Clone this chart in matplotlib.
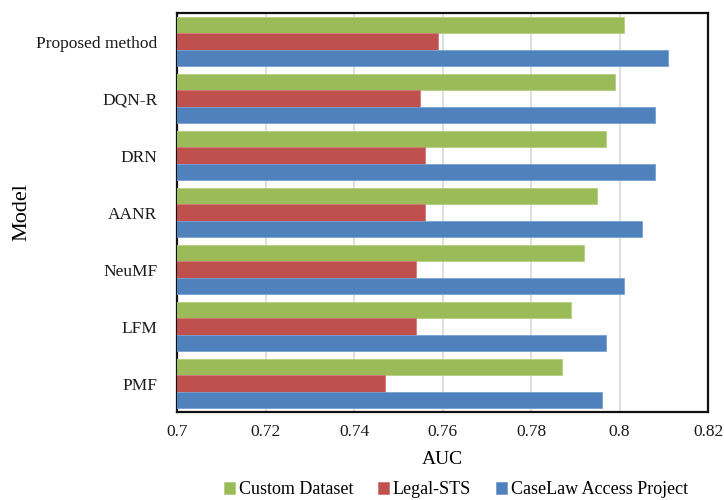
import matplotlib
matplotlib.use("Agg")
import matplotlib.pyplot as plt
import numpy as np

plt.rcParams['font.family'] = ['Liberation Serif', 'DejaVu Serif']

models = ["Proposed method", "DQN-R", "DRN", "AANR", "NeuMF", "LFM", "PMF"]
custom_dataset = [0.801, 0.799, 0.797, 0.795, 0.792, 0.789, 0.787]
legal_sts = [0.759, 0.755, 0.756, 0.756, 0.754, 0.754, 0.747]
caselaw = [0.811, 0.808, 0.808, 0.805, 0.801, 0.797, 0.796]

series = [
    ("Custom Dataset", custom_dataset, "#9BBB59", "#B4CF7E"),
    ("Legal-STS", legal_sts, "#C0504D", "#D07A78"),
    ("CaseLaw Access Project", caselaw, "#4F81BD", "#7AA0D0"),
]

fig = plt.figure(figsize=(7.24, 5.0), dpi=100)
ax = fig.add_axes([0.2445, 0.176, 0.7335, 0.798])

n = len(models)
y = np.arange(n)
bar_h = 1.0 / 3.5
base = 0.5
handles = []
for i, (name, vals, col, edge) in enumerate(series):
    # categories run top to bottom; within each group green sits on top
    pos = y + (i - 1) * bar_h
    b = ax.barh(pos, np.array(vals) - base, left=base, height=bar_h,
                color=col, edgecolor=edge, linewidth=0.6, label=name, zorder=3)
    handles.append(b)

ax.set_xlim(0.7, 0.82)
ax.set_ylim(n - 0.5, -0.5)
ax.set_yticks(y)
ax.set_yticklabels(models)
ax.set_xticks(np.arange(0.70, 0.8201, 0.02))
ax.set_xticklabels(["0.7", "0.72", "0.74", "0.76", "0.78", "0.8", "0.82"])
ax.tick_params(axis='both', length=0, labelsize=12.5, colors='#1a1a1a')
ax.tick_params(axis='x', pad=9)
ax.tick_params(axis='y', pad=14)
ax.grid(axis='x', color='#D9D9D9', linewidth=1.2, zorder=0)
ax.set_axisbelow(True)
for s in ax.spines.values():
    s.set_color('#111111')
    s.set_linewidth(1.6)

ax.set_xlabel("AUC", fontsize=14, va='center')
ax.xaxis.set_label_coords(0.5, -0.12)
ax.set_ylabel("Model", fontsize=16, va='center')
ax.yaxis.set_label_coords(-0.292, 0.5)

fig.legend(handles=handles, labels=[s[0] for s in series], loc='center',
           bbox_to_anchor=(0.63, 0.02), ncol=3, frameon=False, fontsize=13,
           handlelength=0.6, handleheight=0.6, handletextpad=0.2,
           columnspacing=1.4)

fig.savefig("out.png", dpi=100)
